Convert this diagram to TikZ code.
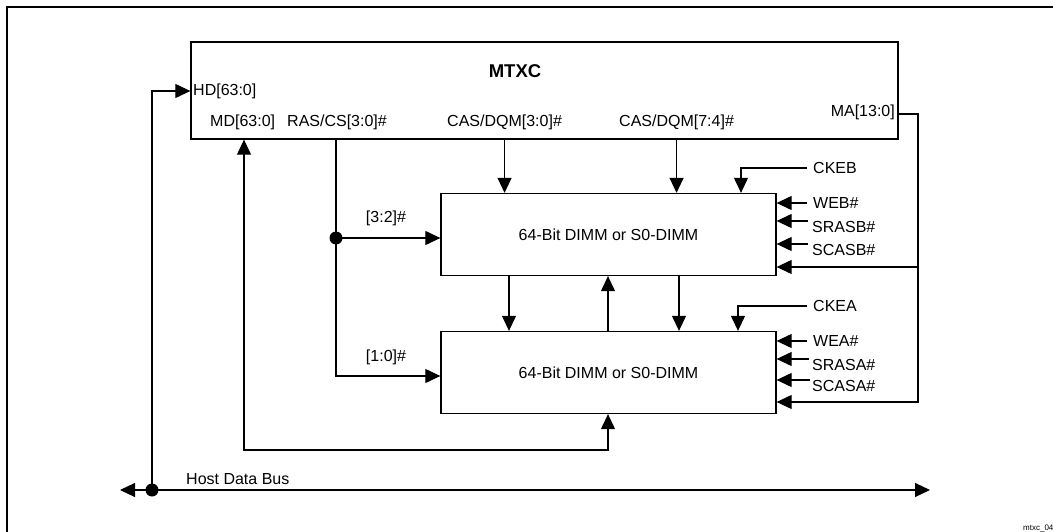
\documentclass[tikz,border=0pt]{standalone}
\usepackage{fontspec}
\setmainfont{Liberation Sans}
\usetikzlibrary{positioning}
\usetikzlibrary{arrows.meta}
\tikzset{sig/.style = {draw, line width=1.1pt, -{Triangle[length=15pt,width=14pt]}}}
\tikzset{bisig/.style = {draw, line width=1.1pt, {Triangle[length=15pt,width=14pt]}-{Triangle[length=15pt,width=14pt]}}}
\tikzset{wire/.style = {draw, line width=1.1pt}}
\tikzset{chip/.style = {draw, line width=1.3pt, inner sep=0, minimum width=335pt, minimum height=82pt,
                        font=\fontsize{16}{18}\selectfont}}
\tikzset{lbl/.style = {inner sep=0, font=\fontsize{16}{18}\selectfont}}
\tikzset{circ/.style = {fill, circle, inner sep=0, minimum size=13pt}}

\begin{document}
\begin{tikzpicture}[x=1pt, y=-1pt]
    \useasboundingbox (0,0) rectangle (1053,532);
    \clip (0,0) rectangle (1053,532);
    \draw[line width=2pt] (7,545) -- (7,7) -- (1065,7);
    % blocks
    \node[chip, minimum width=707pt, minimum height=97pt] (mtxc) at (544.5,90.5) {};
    \node[font=\bfseries\fontsize{18.5}{20}\selectfont, inner sep=0] (mtxcname) at (515,71) {MTXC};
    \node[chip] (dimmB) at (608.5,234.5) {64-Bit DIMM or S0-DIMM};
    \node[chip] (dimmA) at (608.5,372.5) {64-Bit DIMM or S0-DIMM};
    % MTXC pins
    \node[lbl, anchor=west] (hd) at (193,91) {HD[63:0]};
    \node[lbl, anchor=west] (md) at (210,122) {MD[63:0]};
    \node[lbl, anchor=west] (ras) at (287,122) {RAS/CS[3:0]\#};
    \node[lbl, anchor=west] (cas0) at (447,122) {CAS/DQM[3:0]\#};
    \node[lbl, anchor=west] (cas1) at (619,122) {CAS/DQM[7:4]\#};
    \node[lbl, anchor=east] (ma) at (895,112) {MA[13:0]};
    % control inputs
    \node[lbl, anchor=west] (ckeb) at (813,168) {CKEB};
    \node[lbl, anchor=west] (web) at (813,203) {WEB\#};
    \node[lbl, anchor=north west] (srasb) at (812,221) {SRASB\#};
    \node[lbl, anchor=north west] (scasb) at (812,244) {SCASB\#};
    \node[lbl, anchor=west] (ckea) at (813,306) {CKEA};
    \node[lbl, anchor=west] (wea) at (813,341) {WEA\#};
    \node[lbl, anchor=north west] (srasa) at (812,359) {SRASA\#};
    \node[lbl, anchor=north west] (scasa) at (812,380) {SCASA\#};
    \node[lbl] (hi) at (386,218) {[3:2]\#};
    \node[lbl] (lo) at (386,357) {[1:0]\#};
    \node[lbl, anchor=west] (busname) at (186,479) {Host Data Bus};
    \node[font=\fontsize{8}{9}\selectfont, anchor=west, inner sep=0] (figid) at (1023,528) {mtxc\_04};
    % bends
    \coordinate (bus) at (152,490);
    \coordinate (busL) at (120,490);
    \coordinate (busR) at (930,490);
    \coordinate (mdloop) at (244,450);
    \coordinate (rasdot) at (336,238);
    \coordinate (raslo) at (336,376);
    \coordinate (dqlo) at (509,0);
    \coordinate (dqhi) at (679,0);
    \coordinate (mdx) at (608,0);
    \coordinate (ckbx) at (741,0);
    \coordinate (ckax) at (738,0);
    \coordinate (mabend) at (918,114);
    \coordinate (maB) at (918,267);
    \coordinate (maA) at (918,402);
    % host bus
    \draw[bisig] (busL) -- (busR);
    \draw[sig] (bus) |- (mtxc.west |- hd.west);
    \node[circ] at (bus) {};
    % memory data
    \draw[bisig] (mtxc.south -| mdloop) -- (mdloop) -| (dimmA.south -| mdx);
    \draw[sig] (dimmA.north -| mdx) -- (dimmB.south -| mdx);
    % row strobes
    \draw[sig] (mtxc.south -| rasdot) -- (raslo) -- (dimmA.west |- raslo);
    \draw[sig] (rasdot) -- (dimmB.west |- rasdot);
    \node[circ] at (rasdot) {};
    % column strobes
    \draw[sig] (mtxc.south -| cas0) -- (dimmB.north -| cas0);
    \draw[sig] (mtxc.south -| cas1) -- (dimmB.north -| cas1);
    \draw[sig] (dimmB.south -| dqlo) -- (dimmA.north -| dqlo);
    \draw[sig] (dimmB.south -| dqhi) -- (dimmA.north -| dqhi);
    % memory address
    \draw[sig] (mtxc.east |- mabend) -- (mabend) -- (maA) -- (dimmA.east |- maA);
    \draw[sig] (maB) -- (dimmB.east |- maB);
    % control lines
    \draw[sig] ([xshift=-6pt]ckeb.west) -| (dimmB.north -| ckbx);
    \draw[sig] ([xshift=-6pt]web.west) -- (dimmB.east |- web.west);
    \draw[sig] ([xshift=-4pt]srasb.north west) -- (dimmB.east |- srasb.north west);
    \draw[sig] ([xshift=-4pt]scasb.north west) -- (dimmB.east |- scasb.north west);
    \draw[sig] ([xshift=-6pt]ckea.west) -| (dimmA.north -| ckax);
    \draw[sig] ([xshift=-6pt]wea.west) -- (dimmA.east |- wea.west);
    \draw[sig] ([xshift=-3pt]srasa.north west) -- (dimmA.east |- srasa.north west);
    \draw[sig] ([xshift=-2pt]scasa.north west) -- (dimmA.east |- scasa.north west);
\end{tikzpicture}
\end{document}
